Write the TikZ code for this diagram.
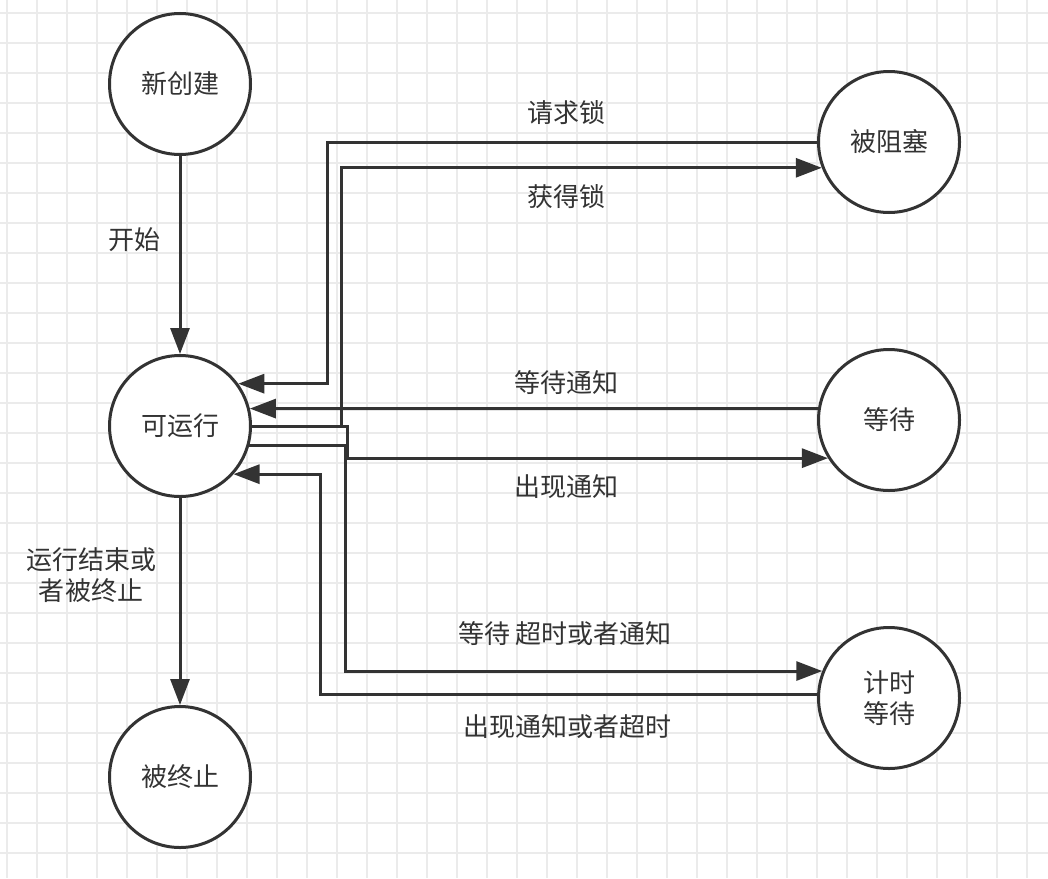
\documentclass[tikz,border=0pt]{standalone}
\usepackage{fontspec}
\setmainfont{Noto Sans CJK SC}
\usetikzlibrary{arrows.meta}
\definecolor{lc}{HTML}{333333}
\definecolor{gridc}{HTML}{EBEBEB}
\begin{document}
\begin{tikzpicture}[x=1pt,y=-1pt,
  st/.style={circle,draw=lc,line width=3pt,fill=white,minimum size=141pt,inner sep=0pt,
    font=\fontsize{26}{31}\selectfont,text=lc,align=center},
  lbl/.style={font=\fontsize{26}{31}\selectfont,text=lc,align=center,inner sep=0pt},
  wire/.style={draw=lc,line width=3pt},
  arr/.style={wire,-{Triangle[length=26pt,width=19pt]}}]
% background and grid
\fill[white] (0,0) rectangle (1048,878);
\useasboundingbox (0,0) rectangle (1048,878);
\foreach \x in {7,37,...,1027} \draw[gridc,line width=2pt] (\x,0) -- (\x,878);
\foreach \y in {13,43,...,853} \draw[gridc,line width=2pt] (0,\y) -- (1048,\y);
% states
\node[st] (xcj) at (180,84) {新创建};
\node[st] (kyx) at (180,426) {可运行};
\node[st] (bzz) at (180,777) {被终止};
\node[st] (bzs) at (889,142) {被阻塞};
\node[st] (dd) at (889,420) {等待};
\node[st] (jsdd) at (889,698) {计时\\等待};
% bend columns
\coordinate (xa) at (327,0);
\coordinate (xb) at (341,0);
\coordinate (xc) at (347,0);
\coordinate (xd) at (345,0);
\coordinate (xe) at (320,0);
% connectors
\draw[arr] (xcj) -- (kyx);
\draw[arr] (kyx) -- (bzz);
\draw[arr] (bzs.west) -| (xa |- kyx.36) -- (kyx.36);
\draw[arr] (kyx.east) -| (xb |- bzs.201) -- (bzs.201);
\draw[arr] (dd.171) -- (kyx.14);
\draw[arr] (kyx.east) -| (xc |- dd.212) -- (dd.212);
\draw[arr] (kyx.-16) -| (xd |- jsdd.158) -- (jsdd.158);
\draw[arr] (jsdd.177) -| (xe |- kyx.-42) -- (kyx.-42);
% labels
\node[lbl] (l1) at (134,240) {开始};
\node[lbl] (l2) at (91,575) {运行结束或\\者被终止};
\node[lbl] (l3) at (566,113) {请求锁};
\node[lbl] (l4) at (566,197) {获得锁};
\node[lbl] (l5) at (566,383) {等待通知};
\node[lbl] (l6) at (566,487) {出现通知};
\node[lbl] (l7) at (565,634) {等待 超时或者通知};
\node[lbl] (l8) at (567,727) {出现通知或者超时};
\end{tikzpicture}
\end{document}
